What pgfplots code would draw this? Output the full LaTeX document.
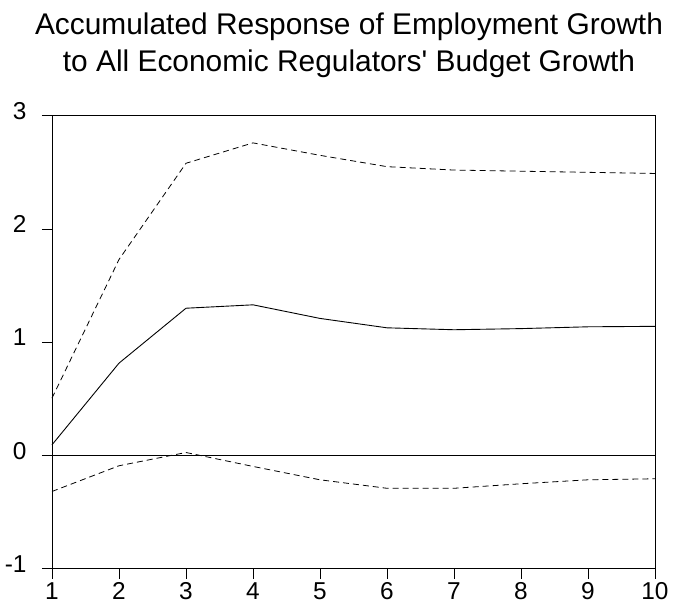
\documentclass[border=0pt]{standalone}
\usepackage{pgfplots}
\pgfplotsset{compat=1.18}
\usepackage{fontspec}
\setmainfont{Liberation Sans}
\begin{document}
\begin{tikzpicture}
\begin{axis}[
  name=ax,
  scale only axis,
  width=603bp, height=453bp,
  xmin=1, xmax=10, ymin=-1, ymax=3,
  xtick={1,...,10}, ytick={-1,0,1,2,3},
  tickpos=left,
  tick align=outside,
  major tick length=10bp,
  major tick style={draw=black, line width=0.8pt},
  axis line style={line width=0.9pt},
  ticklabel style={font=\fontsize{24.5}{28}\selectfont, text height=0.72em, text depth=0pt},
  xticklabel style={yshift=-10bp},
  yticklabel style={xshift=-12bp},
  /pgf/number format/assume math mode=true,
  clip=false,
]
\addplot[black, line width=0.8pt] coordinates {(1,0) (10,0)};
\addplot[black, line width=0.9pt] coordinates {
(1,0.094) (2,0.815) (3,1.30) (4,1.33) (5,1.21) (6,1.127) (7,1.11) (8,1.12) (9,1.136) (10,1.14)};
\addplot[black, line width=0.8pt, dash pattern=on 6bp off 4bp] coordinates {
(1,0.506) (2,1.73) (3,2.58) (4,2.76) (5,2.65) (6,2.55) (7,2.52) (8,2.51) (9,2.50) (10,2.49)};
\addplot[black, line width=0.8pt, dash pattern=on 6bp off 4bp] coordinates {
(1,-0.318) (2,-0.091) (3,0.026) (4,-0.097) (5,-0.215) (6,-0.29) (7,-0.29) (8,-0.25) (9,-0.215) (10,-0.206)};
\pgfplotsinvokeforeach{1,...,10}{\draw[black, line width=0.8pt] (axis cs:#1,-1) -- ([yshift=-10bp]axis cs:#1,-1);}
\pgfplotsinvokeforeach{-1,0,1,2,3}{\draw[black, line width=0.8pt] (axis cs:1,#1) -- ([xshift=-10bp]axis cs:1,#1);}
\end{axis}
\node[anchor=base, font=\fontsize{30}{37}\selectfont, inner sep=0pt] at ([shift={(-4.5bp,80.7bp)}]ax.north) {Accumulated Response of Employment Growth};
\node[anchor=base, font=\fontsize{30}{37}\selectfont, inner sep=0pt] at ([shift={(-4.5bp,43.7bp)}]ax.north) {to All Economic Regulators\textquotesingle{} Budget Growth};
\pgfresetboundingbox
\path ([shift={(-52bp,-43.3bp)}]ax.south west) rectangle ([shift={(635bp,568.7bp)}]ax.south west);
\end{tikzpicture}
\end{document}
